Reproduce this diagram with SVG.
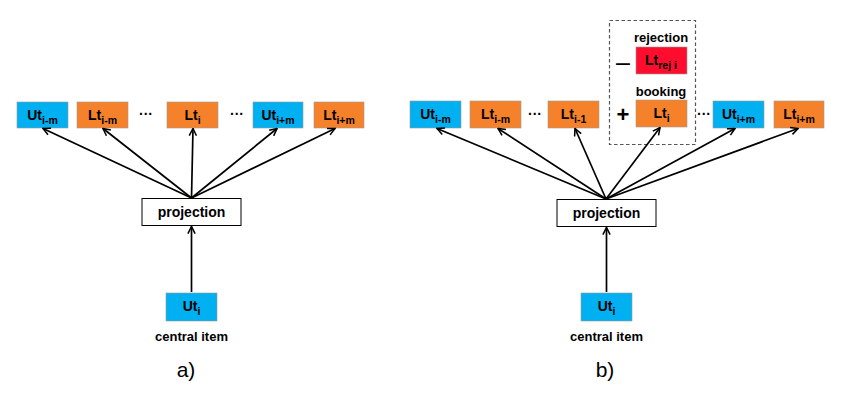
<svg xmlns="http://www.w3.org/2000/svg" width="841" height="400" viewBox="0 0 841 400">
<style>
text{font-family:"Liberation Sans",Arial,sans-serif;font-weight:bold;fill:#000}
.u{fill:#00B0F0}
.l{fill:#F5822A}
.r{fill:#FF0D2E}
.bx{stroke:#9a9a9a;stroke-width:0.6}
.t{font-size:14px;text-anchor:middle}
.s{font-size:10.5px}
.p{fill:#fff;stroke:#000;stroke-width:1}
.lbl{font-size:13px;text-anchor:middle}
.pj{font-size:14px;text-anchor:middle}
.dots{font-size:14px;text-anchor:middle}
.cap{font-size:21px;font-weight:normal;text-anchor:middle}
.c{stroke:#000;stroke-width:1.7;fill:none;marker-end:url(#ah)}
</style>
<defs>
<marker id="ah" viewBox="0 0 10 10" refX="9" refY="5" markerWidth="9" markerHeight="9" markerUnits="userSpaceOnUse" orient="auto">
<path d="M1,1 L9,5 L1,9" fill="none" stroke="#000" stroke-width="1.7"/>
</marker>
</defs>
<rect width="841" height="400" fill="#fff"/>

<!-- Diagram a -->
<g id="a_ut_im"><rect class="u bx" x="17" y="102" width="51" height="26"/><text class="t" x="42.5" y="120">Ut<tspan class="s" dy="4">i-m</tspan></text></g>
<g id="a_lt_im"><rect class="l bx" x="77" y="102" width="51" height="26"/><text class="t" x="102.5" y="120">Lt<tspan class="s" dy="4">i-m</tspan></text></g>
<g id="a_dots1"><text class="dots" x="146" y="119">···</text></g>
<g id="a_lt_i"><rect class="l bx" x="167" y="102" width="51" height="26"/><text class="t" x="192.5" y="120">Lt<tspan class="s" dy="4">i</tspan></text></g>
<g id="a_dots2"><text class="dots" x="237" y="119">···</text></g>
<g id="a_ut_ip"><rect class="u bx" x="253" y="102" width="50" height="26"/><text class="t" x="278" y="120">Ut<tspan class="s" dy="4">i+m</tspan></text></g>
<g id="a_lt_ip"><rect class="l bx" x="314" y="102" width="50" height="26"/><text class="t" x="339" y="120">Lt<tspan class="s" dy="4">i+m</tspan></text></g>
<g id="a_proj"><rect class="p" x="142" y="198.5" width="99" height="27"/><text class="pj" x="191.5" y="217">projection</text></g>
<g id="a_ut_i"><rect class="u bx" x="166" y="293" width="51" height="28"/><text class="t" x="191.5" y="311">Ut<tspan class="s" dy="4">i</tspan></text></g>
<g id="a_central"><text class="lbl" x="191.5" y="341">central item</text></g>
<g id="a_cap"><text class="cap" x="186" y="377">a)</text></g>

<!-- Diagram b -->
<g id="b_ut_im"><rect class="u bx" x="410" y="101" width="51" height="27"/><text class="t" x="435.5" y="119">Ut<tspan class="s" dy="4">i-m</tspan></text></g>
<g id="b_lt_im"><rect class="l bx" x="470" y="101" width="51" height="27"/><text class="t" x="495.5" y="119">Lt<tspan class="s" dy="4">i-m</tspan></text></g>
<g id="b_dots1"><text class="dots" x="535" y="119">···</text></g>
<g id="b_lt_i1"><rect class="l bx" x="548" y="101" width="51" height="27"/><text class="t" x="573.5" y="119">Lt<tspan class="s" dy="4">i-1</tspan></text></g>
<g id="b_group"><rect x="609.5" y="20.5" width="86" height="124" fill="none" stroke="#555" stroke-width="1.2" stroke-dasharray="3.5,2.5"/></g>
<g id="b_rej_lbl"><text class="lbl" x="661" y="42">rejection</text></g>
<g id="b_minus"><text x="623" y="71" style="font-size:25px;font-weight:normal;text-anchor:middle">–</text></g>
<g id="b_lt_rej"><rect class="r bx" x="636" y="47" width="51" height="27"/><text class="t" x="661" y="65">Lt<tspan class="s" dy="4">rej i</tspan></text></g>
<g id="b_book_lbl"><text class="lbl" x="661" y="96">booking</text></g>
<g id="b_plus"><text x="623" y="122" style="font-size:22px;font-weight:bold;text-anchor:middle">+</text></g>
<g id="b_lt_i"><rect class="l bx" x="636" y="100" width="51" height="27"/><text class="t" x="661.5" y="118">Lt<tspan class="s" dy="4">i</tspan></text></g>
<g id="b_dots2"><text class="dots" x="704" y="119">···</text></g>
<g id="b_ut_ip"><rect class="u bx" x="713" y="101" width="51" height="27"/><text class="t" x="738.5" y="119">Ut<tspan class="s" dy="4">i+m</tspan></text></g>
<g id="b_lt_ip"><rect class="l bx" x="774" y="101" width="50" height="27"/><text class="t" x="799" y="119">Lt<tspan class="s" dy="4">i+m</tspan></text></g>
<g id="b_proj"><rect class="p" x="557" y="199.5" width="99" height="27"/><text class="pj" x="606.5" y="218">projection</text></g>
<g id="b_ut_i"><rect class="u bx" x="581" y="293" width="51" height="28"/><text class="t" x="606.5" y="311">Ut<tspan class="s" dy="4">i</tspan></text></g>
<g id="b_central"><text class="lbl" x="606.5" y="341">central item</text></g>
<g id="b_cap"><text class="cap" x="605" y="377">b)</text></g>

<!-- Connectors -->
<g id="connectors">
<line class="c" x1="191.5" y1="198" x2="43" y2="128.5"/>
<line class="c" x1="191.5" y1="198" x2="103" y2="128.5"/>
<line class="c" x1="191.5" y1="198" x2="193" y2="128.5"/>
<line class="c" x1="191.5" y1="198" x2="277" y2="128.5"/>
<line class="c" x1="191.5" y1="198" x2="335" y2="128.5"/>
<line class="c" x1="191.5" y1="292" x2="191.5" y2="226.5"/>
<line class="c" x1="606" y1="199" x2="437" y2="128.5"/>
<line class="c" x1="606" y1="199" x2="498" y2="128.5"/>
<line class="c" x1="606" y1="199" x2="575" y2="128.5"/>
<line class="c" x1="606" y1="199" x2="660" y2="127.5"/>
<line class="c" x1="606" y1="199" x2="735" y2="128.5"/>
<line class="c" x1="606" y1="199" x2="798" y2="128.5"/>
<line class="c" x1="606.5" y1="292" x2="606.5" y2="227.5"/>
</g>
</svg>
